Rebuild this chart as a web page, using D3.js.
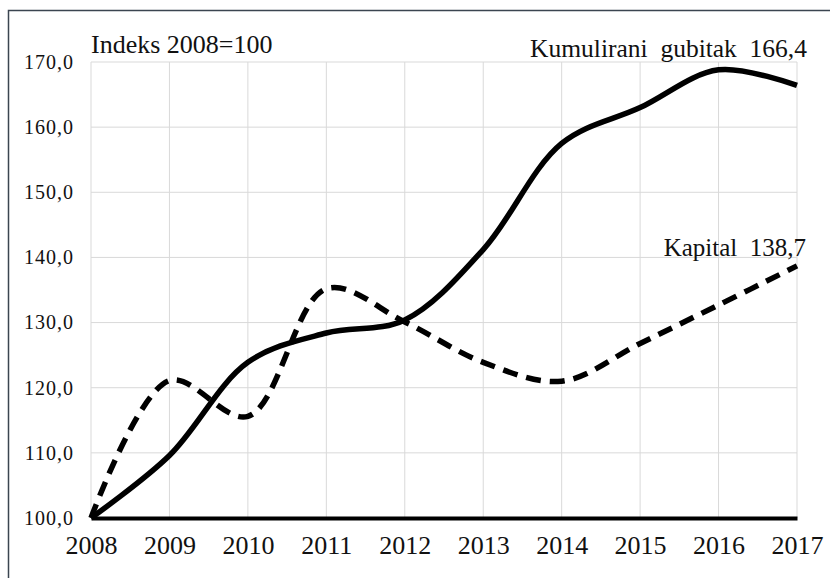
<!DOCTYPE html>
<html>
<head>
<meta charset="utf-8">
<script src="https://cdn.jsdelivr.net/npm/d3@7"></script>
</head>
<body style="margin:0; background:#fff">
<div id="chart"></div>
<script>
// chart data
const years = [2008, 2009, 2010, 2011, 2012, 2013, 2014, 2015, 2016, 2017]
const gubitak = [100, 109.6, 123.9, 128.4, 130.4, 141.2, 157.5, 163.0, 168.8, 166.4]
const kapital = [100, 121.1, 115.6, 135.2, 130.1, 123.9, 121.0, 126.8, 132.7, 138.7]
const yTicks = [100, 110, 120, 130, 140, 150, 160, 170]
const title = "Indeks 2008=100"
const gubitakLabel = "Kumulirani  gubitak  166,4"
const kapitalLabel = "Kapital  138,7"

const width = 830, height = 578
const margin = { top: 62, right: 33, bottom: 60, left: 91 }
const ctxWidth = width - margin.left - margin.right
const ctxHeight = height - margin.top - margin.bottom
const serif = "'Liberation Serif'"

const svg = d3.select("#chart")
    .append("svg")
    .attr("width", width)
    .attr("height", height)

// outer frame
svg.append("rect")
    .attr("x", 8.5).attr("y", 10.5)
    .attr("width", width + 10).attr("height", height + 10)
    .attr("fill", "none")
    .attr("stroke", "#3b4550")
    .attr("stroke-width", 1.5)

const g = svg.append("g")
    .attr("transform", `translate(${margin.left},${margin.top})`)

const x = d3.scaleLinear()
    .domain([years[0], years[years.length - 1]])
    .range([0, ctxWidth])

const y = d3.scaleLinear()
    .domain([100, 170])
    .range([ctxHeight, 0])

// grid
g.append("g")
    .selectAll("line")
    .data(yTicks)
    .join("line")
    .attr("x1", 0).attr("x2", ctxWidth)
    .attr("y1", d => y(d)).attr("y2", d => y(d))
    .attr("stroke", "#d9d9d9")
    .attr("stroke-width", 1)

g.append("g")
    .selectAll("line")
    .data(years)
    .join("line")
    .attr("x1", d => x(d)).attr("x2", d => x(d))
    .attr("y1", 0).attr("y2", ctxHeight)
    .attr("stroke", "#d9d9d9")
    .attr("stroke-width", 1)

// y axis labels
const yAxis = g.append("g")
    .call(d3.axisLeft(y).tickValues(yTicks).tickSize(0).tickPadding(17)
        .tickFormat(d => d3.format(".1f")(d).replace(".", ",")))
yAxis.select(".domain").remove()
yAxis.selectAll("text")
    .style("font-family", serif)
    .attr("font-size", 20)
    .attr("letter-spacing", 1)
    .attr("fill", "#111")

// x axis
const xAxis = g.append("g")
    .attr("transform", `translate(0,${ctxHeight})`)
    .call(d3.axisBottom(x).tickValues(years).tickSize(0).tickPadding(18).tickFormat(d3.format("d")))
xAxis.select(".domain")
    .attr("stroke", "#000")
    .attr("stroke-width", 4)
xAxis.selectAll("text")
    .style("font-family", serif)
    .attr("font-size", 26)
    .attr("fill", "#111")
    .attr("dy", "0.71em")

// lines
const line = d3.line()
    .x((d, i) => x(years[i]))
    .y(d => y(d))
    .curve(d3.curveCatmullRom.alpha(0.5))

g.append("path")
    .datum(kapital)
    .attr("fill", "none")
    .attr("stroke", "#000")
    .attr("stroke-width", 5.5)
    .attr("stroke-dasharray", "15,9")
    .attr("d", line)

g.append("path")
    .datum(gubitak)
    .attr("fill", "none")
    .attr("stroke", "#000")
    .attr("stroke-width", 5.5)
    .attr("d", line)

// texts
g.append("text")
    .attr("x", 0)
    .attr("y", -9)
    .attr("font-size", 26)
    .style("font-family", serif)
    .attr("fill", "#111")
    .text(title)

g.append("text")
    .attr("x", ctxWidth + 10)
    .attr("y", -5)
    .attr("text-anchor", "end")
    .attr("font-size", 25.5)
    .style("font-family", serif)
    .style("white-space", "pre")
    .attr("fill", "#111")
    .text(gubitakLabel)

g.append("text")
    .attr("x", ctxWidth + 9)
    .attr("y", y(140) - 1)
    .attr("text-anchor", "end")
    .attr("font-size", 25)
    .style("font-family", serif)
    .style("white-space", "pre")
    .attr("fill", "#111")
    .text(kapitalLabel)
</script>
</body>
</html>
